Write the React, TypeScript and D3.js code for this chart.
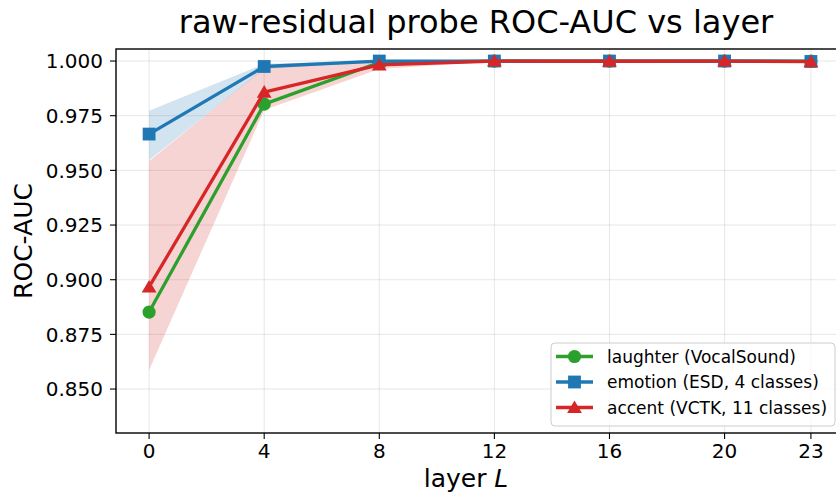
import React from "react";
import * as d3 from "d3";

const layers = [0, 4, 8, 12, 16, 20, 23];
const laughter = [0.8852, 0.9803, 0.9993, 1.0, 1.0, 1.0, 1.0];
const laughterLo = [0.8845, 0.9795, 0.999, 0.9999, 0.9999, 0.9999, 0.9999];
const laughterHi = [0.886, 0.981, 0.9996, 1.0, 1.0, 1.0, 1.0];
const emotion = [0.9666, 0.9975, 1.0, 1.0, 1.0, 1.0, 0.9998];
const emotionLo = [0.9547, 0.9963, 0.9998, 0.9999, 0.9999, 0.9999, 0.9996];
const emotionHi = [0.9773, 0.9987, 1.0, 1.0, 1.0, 1.0, 1.0];
const accent = [0.8967, 0.9858, 0.9982, 1.0, 0.9999, 1.0, 0.9997];
const accentLo = [0.8587, 0.9776, 0.9963, 0.9998, 0.9997, 0.9998, 0.9994];
const accentHi = [0.9543, 0.9968, 1.0, 1.0, 1.0, 1.0, 1.0];
const yTicks = [0.85, 0.875, 0.9, 0.925, 0.95, 0.975, 1.0];
const seriesNames = ["laughter (VocalSound)", "emotion (ESD, 4 classes)", "accent (VCTK, 11 classes)"];
const colors = ["#2ca02c", "#1f77b4", "#d62728"];

const W = 836, H = 498;
const L = 116, T = 49, R = 844, B = 433;
const font = "DejaVu Sans, sans-serif";

function Marker({ kind, x, y, color }: { kind: number; x: number; y: number; color: string }) {
  if (kind === 0) return <circle cx={x} cy={y} r={6.6} fill={color} />;
  if (kind === 1) return <rect x={x - 6.4} y={y - 6.4} width={12.8} height={12.8} fill={color} />;
  const s = 7.4;
  return <path d={`M${x},${y - s * 0.95} L${x + s},${y + s * 0.75} L${x - s},${y + s * 0.75} Z`} fill={color} />;
}

export default function App() {
  const x = d3.scaleLinear().domain([-1.15, 24.15]).range([L, R]);
  const y = d3.scaleLinear().domain([0.8299, 1.0055]).range([B, T]);
  const series = [
    { v: laughter, lo: laughterLo, hi: laughterHi },
    { v: emotion, lo: emotionLo, hi: emotionHi },
    { v: accent, lo: accentLo, hi: accentHi },
  ];
  const line = d3.line<number>().x((_, i) => x(layers[i])).y((d) => y(d));
  const area = (lo: number[], hi: number[]) =>
    d3.area<number>().x((_, i) => x(layers[i])).y0((_, i) => y(lo[i])).y1((_, i) => y(hi[i]))(layers)!;

  return (
    <svg width={W} height={H} style={{ position: "absolute", left: 0, top: 0, background: "#fff" }} fontFamily={font}>
      <rect x={0} y={0} width={W} height={H} fill="#fff" />
      <defs>
        <clipPath id="plot"><rect x={L} y={T} width={R - L} height={B - T} /></clipPath>
      </defs>
      {layers.map((l) => (
        <line key={"gx" + l} x1={x(l)} x2={x(l)} y1={T} y2={B} stroke="#b0b0b0" strokeOpacity={0.3} strokeWidth={1} />
      ))}
      {yTicks.map((t) => (
        <line key={"gy" + t} x1={L} x2={R} y1={y(t)} y2={y(t)} stroke="#b0b0b0" strokeOpacity={0.3} strokeWidth={1} />
      ))}
      <g clipPath="url(#plot)">
        {series.map((s, i) => (
          <path key={"a" + i} d={area(s.lo, s.hi)} fill={colors[i]} fillOpacity={0.2} />
        ))}
        {series.map((s, i) => (
          <g key={"l" + i}>
            <path d={line(s.v)!} fill="none" stroke={colors[i]} strokeWidth={3.3} strokeLinejoin="round" strokeLinecap="round" />
            {s.v.map((v, j) => (
              <Marker key={j} kind={i} x={x(layers[j])} y={y(v)} color={colors[i]} />
            ))}
          </g>
        ))}
      </g>
      <rect x={L} y={T} width={R - L} height={B - T} fill="none" stroke="#000" strokeWidth={1.4} />
      {layers.map((l) => (
        <g key={"xt" + l}>
          <line x1={x(l)} x2={x(l)} y1={B} y2={B + 6} stroke="#000" strokeWidth={1.1} />
          <text x={x(l)} y={B + 25} textAnchor="middle" fontSize={20} fill="#000">{l}</text>
        </g>
      ))}
      {yTicks.map((t) => (
        <g key={"yt" + t}>
          <line x1={L - 6} x2={L} y1={y(t)} y2={y(t)} stroke="#000" strokeWidth={1.1} />
          <text x={L - 13} y={y(t) + 7.3} textAnchor="end" fontSize={20} fill="#000">{t.toFixed(3)}</text>
        </g>
      ))}
      <text x={476} y={33} textAnchor="middle" fontSize={32} fill="#000">raw-residual probe ROC-AUC vs layer</text>
      <text x={466} y={487} textAnchor="middle" fontSize={25} fill="#000">layer <tspan fontStyle="italic">L</tspan></text>
      <text transform={`translate(32,${(T + B) / 2}) rotate(-90)`} textAnchor="middle" fontSize={25} fill="#000">ROC-AUC</text>
      <g>
        <rect x={551} y={343} width={284} height={83} rx={4} fill="#fff" fillOpacity={0.8} stroke="#cccccc" strokeWidth={1} />
        {seriesNames.map((n, i) => {
          const yy = 356.5 + i * 25.5;
          return (
            <g key={n}>
              <line x1={556} x2={593} y1={yy} y2={yy} stroke={colors[i]} strokeWidth={3.3} />
              <Marker kind={i} x={574.5} y={yy} color={colors[i]} />
              <text x={607} y={yy + 6} fontSize={17} fill="#000">{n}</text>
            </g>
          );
        })}
      </g>
    </svg>
  );
}
